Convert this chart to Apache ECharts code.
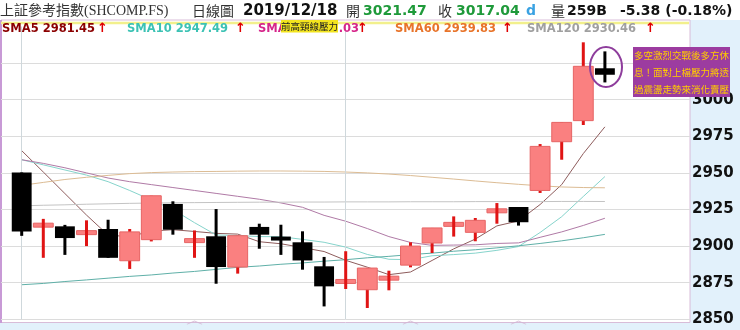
<!DOCTYPE html>
<html>
<head>
<meta charset="utf-8">
<script src="https://cdn.jsdelivr.net/npm/echarts@6.0.0/dist/echarts.min.js"></script>
<style>html,body{margin:0;padding:0;background:#fff}#c{width:740px;height:330px}</style>
</head>
<body>
<div id="c"></div>
<script>
// ---- data ----
const dates = ['2019/11/11','2019/11/12','2019/11/13','2019/11/14','2019/11/15','2019/11/18','2019/11/19','2019/11/20','2019/11/21','2019/11/22','2019/11/25','2019/11/26','2019/11/27','2019/11/28','2019/11/29','2019/12/02','2019/12/03','2019/12/04','2019/12/05','2019/12/06','2019/12/09','2019/12/10','2019/12/11','2019/12/12','2019/12/13','2019/12/16','2019/12/17','2019/12/18'];
const padSlots = ['p1','p2','p3','p4'];
const openV  = [2950.3,2914.0,2913.5,2909.0,2911.7,2890.0,2904.4,2928.8,2903.5,2906.7,2885.7,2913.1,2905.8,2902.6,2886.2,2875.5,2870.2,2877.8,2887.0,2902.1,2914.6,2909.4,2923.8,2926.7,2938.0,2971.3,2985.7,3021.47];
const closeV = [2910.0,2914.6,2905.5,2909.4,2892.0,2909.7,2934.4,2911.2,2904.0,2885.7,2907.1,2907.8,2904.5,2890.2,2872.5,2876.2,2885.0,2878.4,2900.0,2912.4,2915.1,2917.6,2924.4,2916.3,2968.1,2984.5,3022.8,3017.04];
const lowV   = [2907.0,2892.0,2894.0,2900.0,2892.0,2884.4,2903.2,2907.8,2892.0,2874.3,2881.2,2898.2,2894.0,2883.9,2858.8,2870.7,2857.7,2869.8,2885.5,2895.3,2906.5,2903.3,2915.3,2914.0,2936.3,2959.0,2982.7,3011.8];
const highV  = [2950.3,2918.6,2914.5,2917.6,2918.0,2911.7,2934.4,2930.6,2910.7,2925.3,2907.1,2915.3,2914.6,2910.1,2892.6,2896.5,2885.0,2883.2,2902.6,2912.4,2920.3,2919.2,2929.4,2926.7,2969.7,2984.5,3039.2,3033.0];
const sma5   = [2965.2,2950.6,2935.9,2921.2,2907.5,2906.4,2910.3,2911.2,2910.0,2908.7,2908.2,2903.0,2901.6,2899.0,2896.3,2890.3,2885.6,2880.5,2882.3,2890.2,2898.1,2904.8,2913.8,2917.2,2928.4,2942.0,2963.2,2981.45];
const sma10  = [2959.0,2955.5,2952.0,2948.5,2944.0,2938.0,2931.5,2925.0,2916.0,2907.6,2907.2,2906.5,2906.4,2904.6,2902.6,2899.3,2894.3,2891.0,2890.7,2893.4,2894.2,2895.2,2897.1,2899.7,2909.3,2920.1,2933.9,2947.49];
const sma20  = [2959.0,2956.5,2953.5,2950.0,2946.5,2944.0,2942.0,2940.0,2938.0,2936.0,2934.0,2932.0,2929.5,2926.5,2921.0,2917.0,2912.0,2906.5,2902.5,2900.5,2900.7,2900.9,2901.8,2902.2,2906.0,2909.7,2914.1,2919.03];
const sma60  = [2941.5,2943.5,2945.5,2947.0,2948.3,2949.5,2950.2,2950.6,2950.9,2951.0,2951.2,2951.3,2951.3,2951.2,2951.0,2950.6,2950.0,2949.2,2948.2,2947.0,2945.8,2944.5,2943.3,2942.2,2941.2,2940.4,2940.0,2939.83];
const sma120 = [2927.5,2927.9,2928.2,2928.6,2928.9,2929.2,2929.4,2929.6,2929.7,2929.8,2929.9,2930.0,2930.0,2930.1,2930.1,2930.2,2930.2,2930.2,2930.3,2930.3,2930.3,2930.4,2930.4,2930.4,2930.4,2930.5,2930.5,2930.46];
const maExtra= [2873.6,2874.5,2875.8,2876.9,2878.1,2879.3,2880.3,2881.6,2882.7,2884.1,2885.5,2886.4,2887.6,2888.5,2889.7,2890.7,2892.0,2893.0,2894.2,2895.2,2896.5,2897.5,2898.8,2900.2,2901.8,2903.6,2905.7,2908.0];
const smaNames  = ['SMA5','SMA10','SMA20','SMA60','SMA120'];
const smaLast   = ['2981.45','2947.49','2919.03','2939.83','2930.46'];
const yTicks = [2850, 2875, 2900, 2925, 2950, 2975, 3000, 3025, 3050];
const markIdx = [8, 18, 23];
const sepIdx = [0, 15];
const header = {title:'上証參考指數(SHCOMP.FS)', kind:'日線圖', date:'2019/12/18', open:'3021.47', close:'3017.04', vol:'259B', chg:'-5.38 (-0.18%)'};
const noteText = ['多空激烈交戰後多方休','息！面對上檔壓力將透','過震盪走勢來消化賣壓'];
const neckText = '前高頸線壓力';

// ---- chart ----
const chart = echarts.init(document.getElementById('c'), null, {renderer:'canvas'});
const candleData = dates.map((d,i)=>[i, openV[i], closeV[i], lowV[i], highV[i]]);
const cats = dates.concat(padSlots);

function renderCandle(params, api){
  const idx = api.value(0), o = api.value(1), c = api.value(2), lo = api.value(3), hi = api.value(4);
  const pO = api.coord([idx,o]), pC = api.coord([idx,c]), pL = api.coord([idx,lo]), pH = api.coord([idx,hi]);
  const bw = api.size([1,0])[0]*0.92;
  const up = c >= o;
  const x = pO[0];
  let top = Math.min(pO[1],pC[1]), h = Math.abs(pO[1]-pC[1]);
  const doji = h < 4;
  if (doji){ const m=(pO[1]+pC[1])/2; top=m-2; h=4; }
  const wc = up ? '#e01414' : '#000';
  const wick = {type:'rect', shape:{x:x-1.5, y:pH[1], width:3, height:Math.max(1,pL[1]-pH[1])}, style:{fill:wc}};
  const body = {type:'rect', shape:{x:x-bw/2, y:top, width:bw, height:h},
    style: up ? {fill:'#fa8080', stroke:'#e66464', lineWidth:1} : {fill:'#000'}};
  return {type:'group', children: doji ? [body,wick] : [wick,body]};
}

const lineCols = ['#8e5c5c','#86d4cc','#b07aa6','#dcbc94','#c4c4c4'];
const legendCols = ['#8b0000','#3cc2b4','#d6258a','#e8742a','#a0a0a0'];
const maArrays = [sma5, sma10, sma20, sma60, sma120];

const GRID_TOP = 26.5, GRID_BOTTOM = 10.7;
const series = [];
maArrays.forEach((arr,k)=>{
  series.push({type:'line', name:smaNames[k], xAxisIndex:0, yAxisIndex:0, data:arr, symbol:'none', silent:true,
    lineStyle:{width:1, color:lineCols[k]}, z:3});
});
series.push({type:'line', name:'extra', xAxisIndex:0, yAxisIndex:0, data:maExtra, symbol:'none', silent:true,
  lineStyle:{width:1, color:'#5fb0a8'}, z:3,
  markLine:{symbol:'none', silent:true, label:{show:false}, lineStyle:{color:'#cfd8dc', type:'solid', width:1},
    data: sepIdx.map(i=>({xAxis: dates[i]}))}});
series.push({type:'custom', name:'K', xAxisIndex:0, yAxisIndex:0, renderItem:renderCandle, data:candleData,
  encode:{x:0, y:[1,2,3,4]}, z:5, clip:false});
series.push({type:'scatter', xAxisIndex:0, yAxisIndex:0, data: markIdx.map(i=>[i, 2847.8]), clip:false, silent:true,
  symbol:'path://M0 5 L8 0 L16 5 L15 5.6 L8 1.2 L1 5.6 Z', symbolSize:[16,4], itemStyle:{color:'#d2b4d2'}, z:4});

const FONT = '"DejaVu Sans", Verdana, sans-serif';
const CJK = '"Noto Sans CJK TC", "Noto Sans CJK SC", sans-serif';
const graphics = [
  // backgrounds
  {type:'rect', z:-100, shape:{x:690, y:20, width:50, height:310}, style:{fill:'#e2f1fb'}},
  {type:'rect', z:-100, shape:{x:0, y:323, width:740, height:7}, style:{fill:'#e2f1fb'}},
  // frame
  {type:'rect', z:-50, shape:{x:1, y:20, width:689, height:302.5}, style:{fill:'none', stroke:'#d8bcd8', lineWidth:1}},
  {type:'line', z:-49, shape:{x1:1, y1:20, x2:1, y2:323}, style:{stroke:'#c89ad6', lineWidth:2}},
  // neckline
  {type:'line', z:1, shape:{x1:1, y1:23, x2:689, y2:23}, style:{stroke:'#f2f08c', lineWidth:2.5}},
  // header
  {type:'text', z:10, x:0, y:11, style:{text:header.title, font:'14px "Liberation Serif", '+CJK, fill:'#333', verticalAlign:'middle'}},
  {type:'text', z:10, x:192, y:11, style:{text:header.kind, font:'14px '+CJK, fill:'#333', verticalAlign:'middle'}},
  {type:'text', z:10, x:243, y:11, style:{text:header.date, font:'bold 15px '+FONT, fill:'#111', verticalAlign:'middle'}},
  {type:'text', z:10, x:346, y:11, style:{text:'開', font:'14px '+CJK, fill:'#333', verticalAlign:'middle'}},
  {type:'text', z:10, x:363, y:11, style:{text:header.open, font:'bold 14px '+FONT, fill:'#1f9a3a', verticalAlign:'middle'}},
  {type:'text', z:10, x:438, y:11, style:{text:'收', font:'14px '+CJK, fill:'#333', verticalAlign:'middle'}},
  {type:'text', z:10, x:456, y:11, style:{text:header.close, font:'bold 14px '+FONT, fill:'#1f9a3a', verticalAlign:'middle'}},
  {type:'text', z:10, x:526, y:11, style:{text:'d', font:'bold 14px '+FONT, fill:'#3aa2e2', verticalAlign:'middle'}},
  {type:'text', z:10, x:551, y:11, style:{text:'量', font:'14px '+CJK, fill:'#333', verticalAlign:'middle'}},
  {type:'text', z:10, x:567, y:11, style:{text:header.vol, font:'bold 14px '+FONT, fill:'#111', verticalAlign:'middle'}},
  {type:'text', z:10, x:620, y:11, style:{text:header.chg, font:'bold 14px '+FONT, fill:'#111', verticalAlign:'middle'}},
];
// SMA legend
const legX = [2, 127, 258, 395, 527];
const arrX = [97, 235, 357, 502, 645];
smaNames.forEach((n,k)=>{
  graphics.push({type:'text', z:10, x:legX[k], y:29, style:{text:n+' '+smaLast[k], font:'bold 11.5px '+FONT, fill:legendCols[k], verticalAlign:'middle'}});
  graphics.push({type:'text', z:10, x:arrX[k], y:29, style:{text:'↑', font:'bold 13px '+FONT, fill:'#e00000', verticalAlign:'middle'}});
});
// neck label box
graphics.push({type:'rect', z:11, shape:{x:281, y:20, width:57, height:12.5}, style:{fill:'#f2e41e'}});
graphics.push({type:'text', z:12, x:309.5, y:26.5, style:{text:neckText, font:'9.5px '+CJK, fill:'#222', align:'center', verticalAlign:'middle'}});
// annotation
graphics.push({type:'rect', z:11, shape:{x:633, y:47, width:97, height:50}, style:{fill:'#9c3ca0'}});
noteText.forEach((t,i)=>{
  graphics.push({type:'text', z:12, x:681.5, y:55.5+i*17, style:{text:t, font:'9.5px '+CJK, fill:'#ffcc00', align:'center', verticalAlign:'middle'}});
});
graphics.push({type:'ellipse', z:12, shape:{cx:606, cy:67, rx:16, ry:20}, style:{fill:'none', stroke:'#8e3d9c', lineWidth:2}});

const option = {
  animation:false,
  backgroundColor:'#fff',
  grid:[
    {left:10.9, right:37.9, top:GRID_TOP, bottom:GRID_BOTTOM},
    {left:1, right:50, top:GRID_TOP, bottom:GRID_BOTTOM}
  ],
  xAxis:[
    {type:'category', gridIndex:0, data:cats, boundaryGap:true, axisLine:{show:false}, axisTick:{show:false}, axisLabel:{show:false}, splitLine:{show:false}},
    {type:'value', gridIndex:1, show:false, min:0, max:1}
  ],
  yAxis:[
    {type:'value', gridIndex:0, min:yTicks[0], max:yTicks[yTicks.length-1], interval:25, show:false, splitLine:{show:false}},
    {type:'value', gridIndex:1, position:'right', min:yTicks[0], max:yTicks[yTicks.length-1], interval:25,
      axisLine:{show:false}, axisTick:{show:false},
      axisLabel:{margin:2, color:'#111', fontWeight:'bold', fontSize:15, fontFamily:'DejaVu Sans',
        formatter:v=> v>=3025 ? '' : String(v)},
      splitLine:{show:true, showMaxLine:false, lineStyle:{color:'#dcdcdc', width:1}}}
  ],
  series: series,
  graphic:{elements:graphics}
};
chart.setOption(option);
</script>
</body>
</html>
